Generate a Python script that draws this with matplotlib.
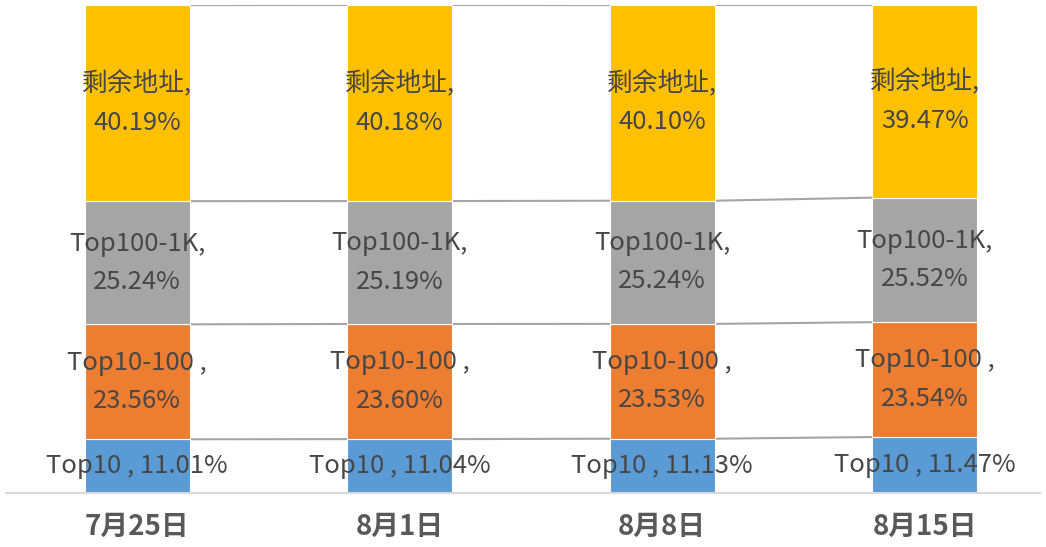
import matplotlib
matplotlib.use("Agg")
import matplotlib.pyplot as plt
import numpy as np

categories = ["7月25日", "8月1日", "8月8日", "8月15日"]
series_names = ["Top10", "Top10-100", "Top100-1K", "剩余地址"]
label_prefix = ["Top10 , ", "Top10-100 ,\n", "Top100-1K,\n", "剩余地址,\n"]
top10 = [11.01, 11.04, 11.13, 11.47]
top10_100 = [23.56, 23.60, 23.53, 23.54]
top100_1k = [25.24, 25.19, 25.24, 25.52]
rest = [40.19, 40.18, 40.10, 39.47]
colors = ["#5B9BD5", "#ED7D31", "#A5A5A5", "#FFC000"]

plt.rcParams['font.family'] = ['Noto Sans CJK SC', 'DejaVu Sans']

fig = plt.figure(figsize=(10.46, 5.47), dpi=100)
ax = fig.add_axes([6/1046, (547-493)/547, (1040-6)/1046, 488/547])

x = np.arange(len(categories))
width = 0.40
data = [top10, top10_100, top100_1k, rest]
bottom = np.zeros(len(categories))
for i, vals in enumerate(data):
    vals = np.array(vals)
    ax.bar(x, vals, width, bottom=bottom, color=colors[i], edgecolor="white", linewidth=0.8, zorder=2)
    for j in range(len(categories)):
        ax.text(x[j], bottom[j] + vals[j] / 2, f"{label_prefix[i]}{vals[j]:.2f}%",
                ha="center", va="center", fontsize=18.5, color="#474747",
                fontweight="light", linespacing=1.62, zorder=3)
    bottom = bottom + vals
    # connector lines
    for j in range(len(categories) - 1):
        ax.plot([x[j] + width / 2, x[j + 1] - width / 2], [bottom[j], bottom[j + 1]],
                color="#A5A5A5", linewidth=1.5, zorder=1)

ax.set_xlim(-0.5, 3.5 - (1056 - 1040) / 262.7)
ax.set_ylim(0, 100.01)
ax.set_yticks([])
ax.set_xticks(x)
ax.set_xticklabels(categories, fontsize=20, fontweight="bold", color="#595959")
ax.tick_params(axis="x", length=0, pad=14)
for s in ["top", "left", "right"]:
    ax.spines[s].set_visible(False)
ax.spines["bottom"].set_color("#D9D9D9")
ax.spines["bottom"].set_linewidth(1.5)

fig.savefig("out.png", dpi=100)
